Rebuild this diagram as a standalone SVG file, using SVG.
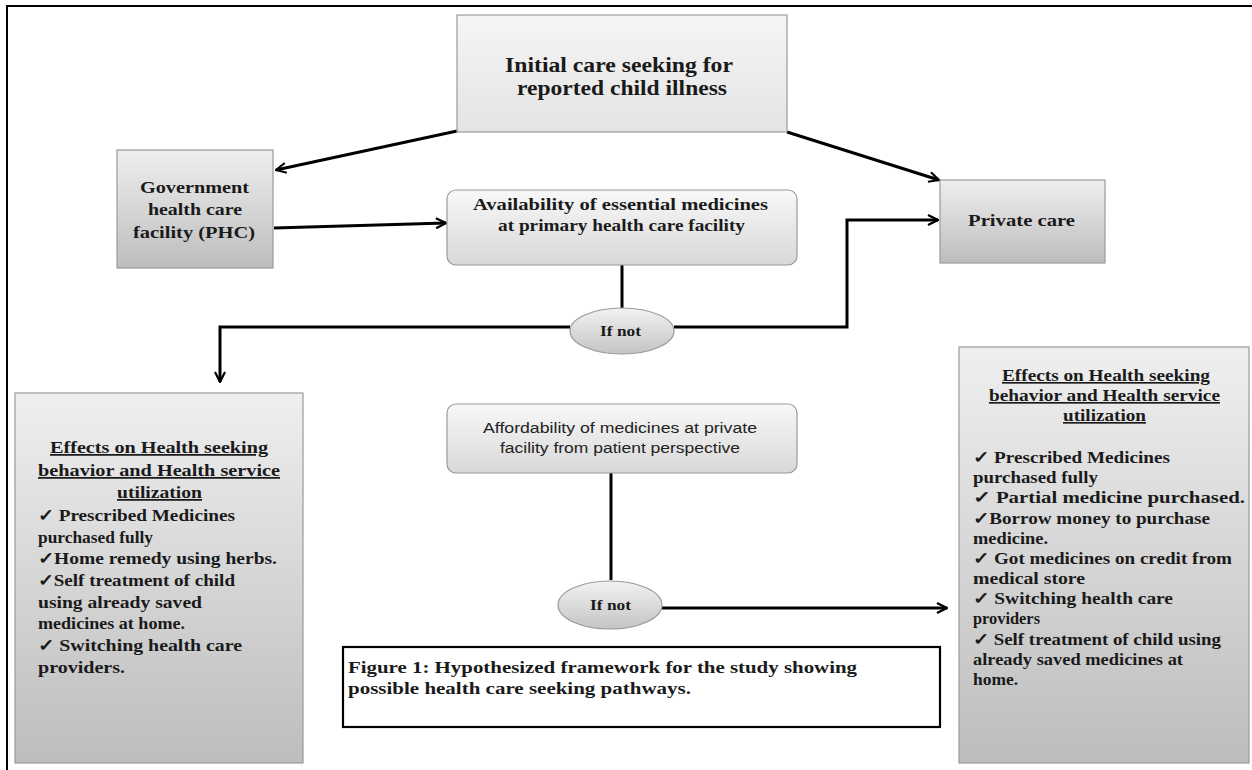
<svg xmlns="http://www.w3.org/2000/svg" width="1252" height="770" viewBox="0 0 1252 770">
<defs>
<linearGradient id="gBox" x1="0" y1="0" x2="0" y2="1"><stop offset="0" stop-color="#efefef"/><stop offset="1" stop-color="#bdbdbd"/></linearGradient>
<linearGradient id="gTop" x1="0" y1="0" x2="0" y2="1"><stop offset="0" stop-color="#f5f5f5"/><stop offset="1" stop-color="#e4e4e4"/></linearGradient>
<linearGradient id="gRound" x1="0" y1="0" x2="0" y2="1"><stop offset="0" stop-color="#f8f8f8"/><stop offset="1" stop-color="#d8d8d8"/></linearGradient>
<linearGradient id="gEll" x1="0" y1="0" x2="0" y2="1"><stop offset="0" stop-color="#f2f2f2"/><stop offset="1" stop-color="#c4c4c4"/></linearGradient>
<marker id="arr" viewBox="0 0 12 12" refX="11" refY="6" markerWidth="12" markerHeight="12" markerUnits="userSpaceOnUse" orient="auto">
<path d="M1,1 L11,6 L1,11" fill="none" stroke="#000" stroke-width="2.2"/>
</marker>
<style>
.box{stroke:#9a9a9a;stroke-width:1.2}
.t{font-family:"Liberation Serif","Times New Roman",serif;font-weight:bold;fill:#1a1a1a}
.s{font-family:"Liberation Sans",Arial,sans-serif;fill:#222}
.u{text-decoration:underline}
.c{stroke:#000;stroke-width:3;fill:none}
</style>
</defs>
<rect width="1252" height="770" fill="#fff"/>
<path d="M7,770 V6 H1252" fill="none" stroke="#000" stroke-width="2"/>

<g id="connectors">
<path class="c" d="M457,131 L276,170" marker-end="url(#arr)"/>
<path class="c" d="M787,132 L939,180" marker-end="url(#arr)"/>
<path class="c" d="M274,228 L446,223" marker-end="url(#arr)"/>
<path class="c" d="M622,265 V309"/>
<path class="c" d="M570,327 H220 V382" marker-end="url(#arr)"/>
<path class="c" d="M674,327 H847 V220 H938" marker-end="url(#arr)"/>
<path class="c" d="M611,473 V580"/>
<path class="c" d="M662,608 H947" marker-end="url(#arr)"/>
</g>

<g id="initial">
<rect class="box" x="457" y="15" width="330" height="117" fill="url(#gTop)"/>
<text class="t" font-size="20" x="505" y="72" textLength="228" lengthAdjust="spacingAndGlyphs">Initial care seeking for</text>
<text class="t" font-size="20" x="517" y="95" textLength="210" lengthAdjust="spacingAndGlyphs">reported child illness</text>
</g>

<g id="government">
<rect class="box" x="117" y="150" width="156" height="118" fill="url(#gBox)"/>
<text class="t" font-size="17" x="140" y="193" textLength="109" lengthAdjust="spacingAndGlyphs">Government</text>
<text class="t" font-size="17" x="148" y="215" textLength="94" lengthAdjust="spacingAndGlyphs">health care</text>
<text class="t" font-size="17" x="133" y="238" textLength="122" lengthAdjust="spacingAndGlyphs">facility (PHC)</text>
</g>

<g id="availability">
<rect class="box" x="447" y="190" width="350" height="75" rx="9" fill="url(#gRound)"/>
<text class="t" font-size="16.5" x="473" y="210" textLength="295" lengthAdjust="spacingAndGlyphs">Availability of essential  medicines</text>
<text class="t" font-size="16.5" x="498" y="231" textLength="247" lengthAdjust="spacingAndGlyphs">at primary health care facility</text>
</g>

<g id="private">
<rect class="box" x="940" y="180" width="165" height="83" fill="url(#gBox)"/>
<text class="t" font-size="17" x="968" y="226" textLength="107" lengthAdjust="spacingAndGlyphs">Private care</text>
</g>

<g id="ifnot1">
<ellipse class="box" cx="622" cy="331" rx="52" ry="23" fill="url(#gEll)"/>
<text class="t" font-size="15" x="600" y="336" textLength="41" lengthAdjust="spacingAndGlyphs">If not</text>
</g>

<g id="affordability">
<rect class="box" x="447" y="404" width="350" height="69" rx="9" fill="url(#gRound)"/>
<text class="s" font-size="15.5" x="483" y="433" textLength="274" lengthAdjust="spacingAndGlyphs">Affordability of  medicines at private</text>
<text class="s" font-size="15.5" x="500" y="453" textLength="240" lengthAdjust="spacingAndGlyphs">facility from patient perspective</text>
</g>

<g id="ifnot2">
<ellipse class="box" cx="610" cy="605" rx="52" ry="24" fill="url(#gEll)"/>
<text class="t" font-size="15" x="590" y="610" textLength="41" lengthAdjust="spacingAndGlyphs">If not</text>
</g>

<g id="caption">
<rect x="343" y="647" width="597" height="80" fill="#fff" stroke="#000" stroke-width="2.2"/>
<text class="t" font-size="16" x="348" y="673" textLength="509" lengthAdjust="spacingAndGlyphs">Figure 1: Hypothesized framework for the study showing</text>
<text class="t" font-size="16" x="348" y="694" textLength="343" lengthAdjust="spacingAndGlyphs">possible health care seeking pathways.</text>
</g>

<g id="effects-left">
<rect class="box" x="15" y="393" width="288" height="370" fill="url(#gBox)"/>
<text class="t u" font-size="17.5" x="50" y="453" textLength="218" lengthAdjust="spacingAndGlyphs">Effects on Health seeking</text>
<text class="t u" font-size="17.5" x="38" y="476" textLength="242" lengthAdjust="spacingAndGlyphs">behavior and Health service</text>
<text class="t u" font-size="17.5" x="117" y="498" textLength="85" lengthAdjust="spacingAndGlyphs">utilization</text>
<text class="t" font-size="17" x="38" y="521" textLength="197" lengthAdjust="spacingAndGlyphs">✓ Prescribed Medicines</text>
<text class="t" font-size="17" x="38" y="543" textLength="115" lengthAdjust="spacingAndGlyphs">purchased fully</text>
<text class="t" font-size="17" x="38" y="564" textLength="239" lengthAdjust="spacingAndGlyphs">✓Home remedy using herbs.</text>
<text class="t" font-size="17" x="38" y="586" textLength="197" lengthAdjust="spacingAndGlyphs">✓Self treatment of child</text>
<text class="t" font-size="17" x="38" y="608" textLength="164" lengthAdjust="spacingAndGlyphs">using  already saved</text>
<text class="t" font-size="17" x="38" y="629" textLength="147" lengthAdjust="spacingAndGlyphs">medicines at home.</text>
<text class="t" font-size="17" x="38" y="651" textLength="204" lengthAdjust="spacingAndGlyphs">✓ Switching  health care</text>
<text class="t" font-size="17" x="38" y="673" textLength="87" lengthAdjust="spacingAndGlyphs">providers.</text>
</g>

<g id="effects-right">
<rect class="box" x="959" y="347" width="290" height="416" fill="url(#gBox)"/>
<text class="t u" font-size="16.5" x="1002" y="381" textLength="208" lengthAdjust="spacingAndGlyphs">Effects on Health seeking</text>
<text class="t u" font-size="16.5" x="989" y="401" textLength="231" lengthAdjust="spacingAndGlyphs">behavior and Health service</text>
<text class="t u" font-size="16.5" x="1063" y="421" textLength="83" lengthAdjust="spacingAndGlyphs">utilization</text>
<text class="t" font-size="16.5" x="973" y="463" textLength="197" lengthAdjust="spacingAndGlyphs">✓ Prescribed Medicines</text>
<text class="t" font-size="16.5" x="973" y="483" textLength="125" lengthAdjust="spacingAndGlyphs">purchased fully</text>
<text class="t" font-size="16.5" x="973" y="503" textLength="272" lengthAdjust="spacingAndGlyphs">✓ Partial medicine purchased.</text>
<text class="t" font-size="16.5" x="973" y="524" textLength="237" lengthAdjust="spacingAndGlyphs">✓Borrow money to purchase</text>
<text class="t" font-size="16.5" x="973" y="544" textLength="75" lengthAdjust="spacingAndGlyphs">medicine.</text>
<text class="t" font-size="16.5" x="973" y="564" textLength="259" lengthAdjust="spacingAndGlyphs">✓ Got medicines on credit from</text>
<text class="t" font-size="16.5" x="973" y="584" textLength="112" lengthAdjust="spacingAndGlyphs">medical store</text>
<text class="t" font-size="16.5" x="973" y="604" textLength="200" lengthAdjust="spacingAndGlyphs">✓ Switching  health care</text>
<text class="t" font-size="16.5" x="973" y="624" textLength="67" lengthAdjust="spacingAndGlyphs">providers</text>
<text class="t" font-size="16.5" x="973" y="645" textLength="248" lengthAdjust="spacingAndGlyphs">✓ Self treatment of child using</text>
<text class="t" font-size="16.5" x="973" y="665" textLength="210" lengthAdjust="spacingAndGlyphs">already saved medicines at</text>
<text class="t" font-size="16.5" x="973" y="685" textLength="45" lengthAdjust="spacingAndGlyphs">home.</text>
</g>
</svg>
